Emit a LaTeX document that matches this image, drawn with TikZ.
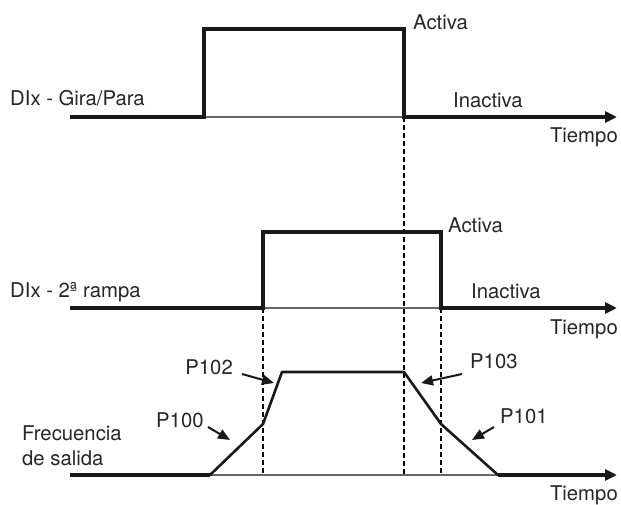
\documentclass[tikz,border=0pt]{standalone}
\usepackage{fontspec}
\setmainfont{TeX Gyre Heros}
\usetikzlibrary{arrows.meta}
\begin{document}
\begin{tikzpicture}[x=1pt,y=-1pt,
  sig/.style={line width=3.6pt,line join=miter,color=black!90},
  thinb/.style={line width=1.3pt,color=black!60},
  ramp/.style={line width=2.6pt,line join=round,color=black!90},
  guide/.style={line width=2.5pt,dash pattern=on 5pt off 3pt,color=black},
  ptr/.style={line width=2pt,color=black!90,-{Triangle[length=12pt,width=10pt]}},
  axtip/.style={-{Triangle[length=12pt,width=11pt]}},
  lbl/.style={font=\fontsize{20.3}{23}\selectfont,text=black!85,inner sep=0pt}]
\useasboundingbox (0,0) rectangle (621,505);
% coordinates
\coordinate (a0) at (70,117);
\coordinate (a1) at (204,117);
\coordinate (a2) at (204,29);
\coordinate (a3) at (404,29);
\coordinate (a4) at (404,117);
\coordinate (a5) at (617,117);
\coordinate (b0) at (70,308);
\coordinate (b1) at (263,308);
\coordinate (b2) at (263,232);
\coordinate (b3) at (441,232);
\coordinate (b4) at (441,308);
\coordinate (b5) at (617,308);
\coordinate (c0) at (70,475);
\coordinate (c1) at (210,475);
\coordinate (c2) at (263,424);
\coordinate (c3) at (282,372);
\coordinate (c4) at (404,372);
\coordinate (c5) at (441,424);
\coordinate (c6) at (498,475);
\coordinate (c7) at (617,475);
\coordinate (g1) at (404,475);
\coordinate (g2) at (263,475);
\coordinate (g3) at (441,475);
% guides
\draw[guide] (a4) -- (g1);
\draw[guide] (b1) -- (g2);
\draw[guide] (b4) -- (g3);
% top signal
\draw[thinb] (a1) -- (a4);
\draw[sig,axtip] (a0) -- (a1) -- (a2) -- (a3) -- (a4) -- (a5);
% middle signal
\draw[thinb] (b1) -- (b4);
\draw[sig,axtip] (b0) -- (b1) -- (b2) -- (b3) -- (b4) -- (b5);
% bottom
\draw[thinb] (c1) -- (c6);
\draw[sig] (c0) -- (c1);
\draw[sig,axtip] (c6) -- (c7);
\draw[ramp] (c1) -- (c2) -- (c3) -- (c4) -- (c5) -- (c6);
% labels
\node[lbl,anchor=base west] (l1) at (10,106) {DIx - Gira/Para};
\node[lbl,anchor=base west] (act1) at (413,30) {Activa};
\node[lbl,anchor=base west] (ina1) at (453,108) {Inactiva};
\node[lbl,anchor=base east] (t1) at (618,143) {Tiempo};
\node[lbl,anchor=base west] (l2) at (10,297) {DIx - 2ª rampa};
\node[lbl,anchor=base west] (act2) at (448,233) {Activa};
\node[lbl,anchor=base west] (ina2) at (471,298) {Inactiva};
\node[lbl,anchor=base east] (t2) at (618,334) {Tiempo};
\node[lbl,anchor=base east] (t3) at (618,500) {Tiempo};
\node[lbl,anchor=base west] (fr1) at (22,440) {Frecuencia};
\node[lbl,anchor=base west] (fr2) at (22,465) {de salida};
\node[lbl,anchor=base west] (p100) at (156,427) {P100};
\node[lbl,anchor=base east] (p102) at (233,374) {P102};
\node[lbl,anchor=base west] (p103) at (470,368) {P103};
\node[lbl,anchor=base west] (p101) at (500,423) {P101};
% pointer arrows
\coordinate (q100s) at (208,427); \coordinate (q100e) at (230,440);
\coordinate (q102s) at (242,374); \coordinate (q102e) at (274,383);
\coordinate (q103s) at (462,374); \coordinate (q103e) at (421,383);
\coordinate (q101s) at (494,427); \coordinate (q101e) at (472,440);
\draw[ptr] (q100s) -- (q100e);
\draw[ptr] (q102s) -- (q102e);
\draw[ptr] (q103s) -- (q103e);
\draw[ptr] (q101s) -- (q101e);
\end{tikzpicture}
\end{document}
